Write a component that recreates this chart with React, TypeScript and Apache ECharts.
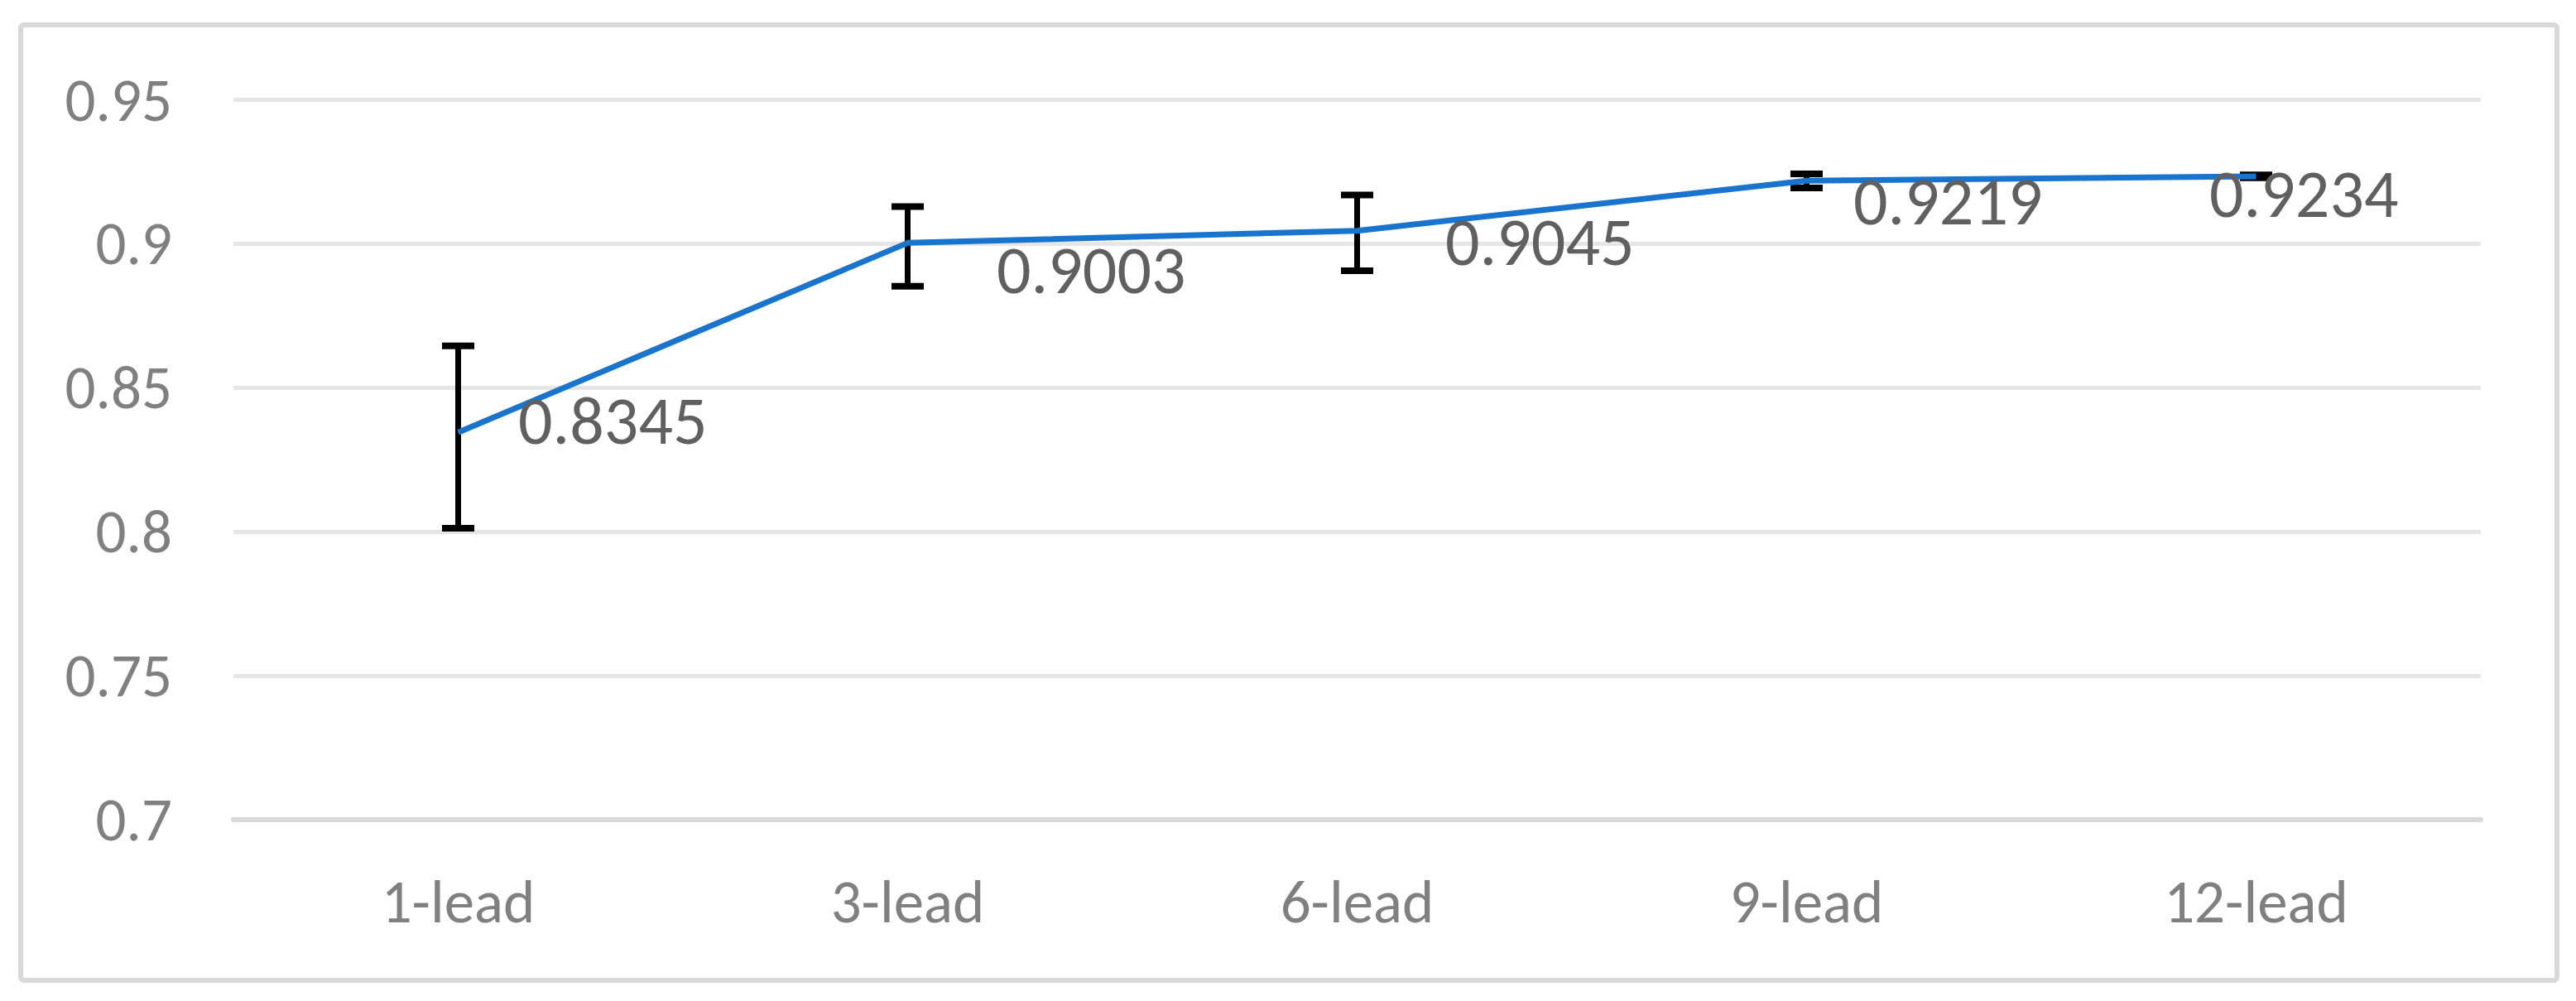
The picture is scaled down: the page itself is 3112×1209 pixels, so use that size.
import React, { useEffect, useRef } from "react";
import * as echarts from "echarts";

const categories = ["1-lead", "3-lead", "6-lead", "9-lead", "12-lead"];
const meanValues = [0.8345, 0.9003, 0.9045, 0.9219, 0.9234];
const errorLow = [0.8012, 0.8852, 0.8906, 0.9194, 0.9229];
const errorHigh = [0.8645, 0.9129, 0.9169, 0.9243, 0.9239];
const yTicks = { min: 0.7, max: 0.95, interval: 0.05 };
// label placement offsets (pixels) for each data label
const labelOffsets = [
  [67, -14],
  [102, 33],
  [101, 13],
  [51, 25],
  [-62, 21],
];

const FONT = "Carlito, Lato, 'Liberation Sans', sans-serif";

export default function App() {
  const ref = useRef<HTMLDivElement>(null);
  useEffect(() => {
    if (!ref.current) return;
    const chart = echarts.init(ref.current, null, { renderer: "svg" });
    const option: any = {
      animation: false,
      backgroundColor: "#ffffff",
      textStyle: { fontFamily: FONT },
      grid: { left: 282, right: 115, top: 120.5, bottom: 219, containLabel: false },
      graphic: [
        {
          type: "rect",
          shape: { x: 25, y: 30, width: 3064, height: 1154, r: 4 },
          style: { fill: "none", stroke: "#d9d9d9", lineWidth: 6 },
          silent: true,
          z: -10,
        },
      ],
      xAxis: {
        type: "category",
        data: categories,
        boundaryGap: true,
        axisLine: { show: true, lineStyle: { color: "#d9d9d9", width: 6 } },
        axisTick: { show: false },
        axisLabel: {
          color: "#808080",
          fontSize: 73,
          fontFamily: FONT,
          margin: 62,
        },
        splitLine: { show: false },
      },
      yAxis: {
        type: "value",
        min: yTicks.min,
        max: yTicks.max,
        interval: yTicks.interval,
        axisLine: { show: false },
        axisTick: { show: false },
        axisLabel: {
          color: "#808080",
          fontSize: 73,
          fontFamily: FONT,
          margin: 74,
        },
        splitLine: { show: true, lineStyle: { color: "#e6e6e6", width: 5 } },
      },
      series: [
        {
          type: "custom",
          z: 1,
          silent: true,
          data: categories.map((_, i) => [i, errorLow[i], errorHigh[i]]),
          encode: { x: 0, y: [1, 2] },
          renderItem: (params: any, api: any) => {
            const idx = api.value(0);
            const lo = api.coord([idx, api.value(1)]);
            const hi = api.coord([idx, api.value(2)]);
            const half = 19.5;
            const st = { stroke: "#000000", lineWidth: 7 };
            const capSt = { stroke: "#000000", lineWidth: 8 };
            return {
              type: "group",
              children: [
                { type: "line", shape: { x1: lo[0], y1: lo[1], x2: hi[0], y2: hi[1] }, style: st },
                { type: "line", shape: { x1: hi[0] - half, y1: hi[1], x2: hi[0] + half, y2: hi[1] }, style: capSt },
                { type: "line", shape: { x1: lo[0] - half, y1: lo[1], x2: lo[0] + half, y2: lo[1] }, style: capSt },
              ],
            };
          },
        },
        {
          type: "line",
          z: 3,
          data: meanValues.map((v, i) => ({
            value: v,
            label: { offset: labelOffsets[i] },
          })),
          symbol: "circle",
          symbolSize: 1,
          showSymbol: true,
          itemStyle: { color: "#1874cd" },
          lineStyle: { color: "#1874cd", width: 7 },
          label: {
            show: true,
            position: "right",
            distance: 5,
            fontSize: 82,
            fontFamily: FONT,
            color: "#606060",
            formatter: (p: any) => Number(p.value).toFixed(4),
          },
        },
      ],
    };
    chart.setOption(option);
    return () => chart.dispose();
  }, []);
  return (
    <div
      ref={ref}
      style={{ position: "fixed", left: 0, top: 0, width: 3112, height: 1209, background: "#fff" }}
    />
  );
}
